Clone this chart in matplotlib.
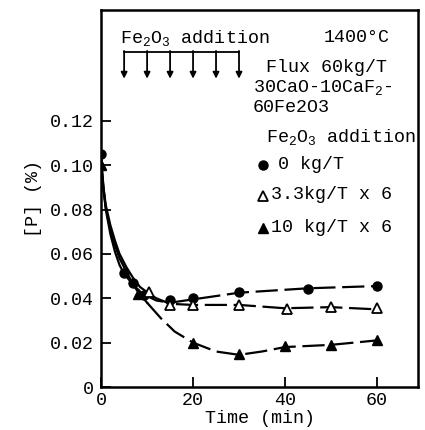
import numpy as np
import matplotlib.pyplot as plt

plt.rcParams['font.family'] = ['Liberation Mono', 'DejaVu Sans Mono']
plt.rcParams['mathtext.fontset'] = 'custom'
plt.rcParams['mathtext.rm'] = 'Liberation Mono'
plt.rcParams['mathtext.it'] = 'Liberation Mono'

# measured points
t_circle = [0, 5, 7, 9.3, 15, 20, 30, 45, 60]
p_circle = [0.105, 0.0515, 0.047, 0.0415, 0.039, 0.040, 0.043, 0.044, 0.0455]
t_open = [0, 10.5, 15, 20, 30, 40.5, 50, 60]
p_open = [0.100, 0.043, 0.037, 0.037, 0.037, 0.035, 0.036, 0.0355]
t_fill = [0, 8, 20, 30, 40, 50, 60]
p_fill = [0.100, 0.042, 0.020, 0.015, 0.0185, 0.019, 0.021]

# hand drawn curves
tc_circle = [0, 0.5, 1, 2, 3, 4, 5, 7, 9, 12, 15, 20, 30, 45, 60]
pc_circle = [0.105, 0.090, 0.080, 0.069, 0.061, 0.055, 0.051, 0.046, 0.042, 0.039, 0.038, 0.0395, 0.0425, 0.0445, 0.0455]
tc_open = [0, 0.5, 1, 2, 3, 4, 5.5, 7, 8.5, 10.5, 12, 15, 20, 30, 40, 50, 60]
pc_open = [0.100, 0.090, 0.082, 0.073, 0.066, 0.060, 0.054, 0.049, 0.045, 0.042, 0.040, 0.0375, 0.037, 0.037, 0.0355, 0.036, 0.035]
tc_fill = [0, 0.5, 1, 2, 3, 4, 5.5, 7, 8, 10, 13, 16, 20, 25, 30, 35, 40, 50, 60]
pc_fill = [0.100, 0.089, 0.081, 0.071, 0.064, 0.058, 0.052, 0.046, 0.043, 0.038, 0.031, 0.025, 0.020, 0.016, 0.0145, 0.016, 0.018, 0.019, 0.021]

arrow_t = [5, 10, 15, 20, 25, 30]

fs = 13.2
fig = plt.figure(figsize=(4.25, 4.30), dpi=100)
ax = fig.add_axes([0.238, 0.100, 0.746, 0.877])

def draw_curve(t, p, split):
    t = np.array(t)
    p = np.array(p)
    m = t <= split
    ax.plot(t[m], p[m], color='black', lw=1.6)
    k = np.sum(m) - 1
    ax.plot(t[k:], p[k:], color='black', lw=1.6, dashes=(10, 3))

draw_curve(tc_circle, pc_circle, 9)
draw_curve(tc_open, pc_open, 10.5)
draw_curve(tc_fill, pc_fill, 10)

ax.plot(t_circle, p_circle, 'o', color='black', ms=6.5, zorder=3)
ax.plot(t_open, p_open, '^', mfc='white', mec='black', mew=1.3, ms=6.5, zorder=3)
ax.plot(t_fill, p_fill, '^', color='black', ms=6.5, zorder=3)

ax.set_xlim(0, 69)
ax.set_ylim(0, 0.17)
ax.set_xticks([0, 20, 40, 60])
ax.set_yticks([0, 0.02, 0.04, 0.06, 0.08, 0.10, 0.12])
ax.set_yticklabels(['0', '0.02', '0.04', '0.06', '0.08', '0.10', '0.12'])
ax.tick_params(direction='in', length=7, width=1.3, labelsize=fs)
ax.tick_params(axis='y', pad=5)
for s in ax.spines.values():
    s.set_linewidth(1.8)
ax.set_xlabel('Time (min)', fontsize=fs, labelpad=1)
ax.set_ylabel('[P] (%)', fontsize=fs, labelpad=6)

# addition arrows
ax.plot([arrow_t[0], arrow_t[-1]], [0.151, 0.151], color='black', lw=1.3)
for t in arrow_t:
    ax.annotate('', xy=(t, 0.139), xytext=(t, 0.1515),
                arrowprops=dict(arrowstyle='-|>', color='black', lw=1.3,
                                mutation_scale=9, shrinkA=0, shrinkB=0))

ax.text(4, 0.1575, 'Fe$_2$O$_3$ addition', fontsize=fs, va='center')
ax.text(48.5, 0.1575, '1400\u00b0C', fontsize=fs, va='center')
ax.text(35.8, 0.144, 'Flux 60kg/T', fontsize=fs, va='center')
ax.text(33, 0.135, '30CaO-10CaF$_2$-', fontsize=fs, va='center')
ax.text(33, 0.126, '60Fe2O3', fontsize=fs, va='center')
ax.text(35.8, 0.1129, 'Fe$_2$O$_3$ addition', fontsize=fs, va='center', clip_on=False)

ax.plot([35.2], [0.1002], 'o', color='black', ms=6.5)
ax.text(38.4, 0.1002, '0 kg/T', fontsize=fs, va='center')
ax.plot([35.2], [0.0862], '^', mfc='white', mec='black', mew=1.3, ms=6.5)
ax.text(37, 0.0867, '3.3kg/T x 6', fontsize=fs, va='center')
ax.plot([35.2], [0.0718], '^', color='black', ms=6.5)
ax.text(37, 0.0718, '10 kg/T x 6', fontsize=fs, va='center')

fig.savefig('out.png', dpi=100)
